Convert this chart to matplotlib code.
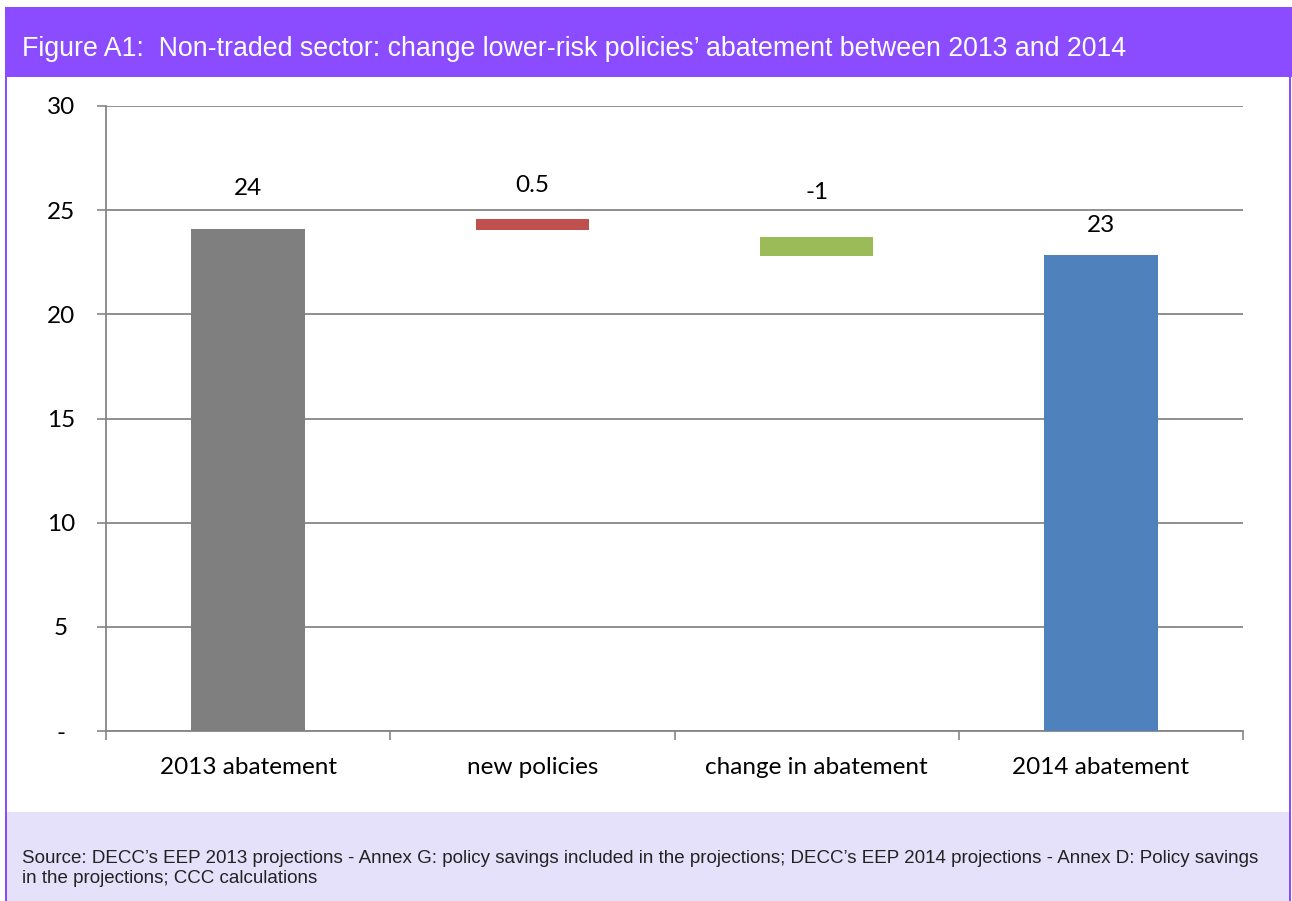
import matplotlib
matplotlib.use("Agg")
import matplotlib.pyplot as plt
from matplotlib.patches import Rectangle

# data
categories = ["2013 abatement", "new policies", "change in abatement", "2014 abatement"]
bar_bottoms = [0, 24.05, 22.8, 0]
bar_heights = [24.1, 0.55, 0.9, 22.85]
bar_labels = ["24", "0.5", "-1", "23"]
label_offsets = [29, 24, 32, 21]  # points above bar top
bar_colors = ["#7F7F7F", "#C0504D", "#9BBB59", "#4F81BD"]
yticks = [0, 5, 10, 15, 20, 25, 30]
ytick_labels = ["-", "5", "10", "15", "20", "25", "30"]

title = "Figure A1:  Non-traded sector: change lower-risk policies\u2019 abatement between 2013 and 2014"
source = ("Source: DECC\u2019s EEP 2013 projections - Annex G: policy savings included in the projections; "
          "DECC\u2019s EEP 2014 projections - Annex D: Policy savings\nin the projections; CCC calculations")

W, H = 1292, 901
fig = plt.figure(figsize=(W / 100, H / 100), dpi=100)
fig.patch.set_facecolor("white")

purple = "#8B4BFE"
lavender = "#E6E1FA"

def px_rect(x0, y0, x1, y1, color):
    # rectangle in pixel coordinates, y measured from the top
    fig.patches.append(Rectangle((x0 / W, 1 - y1 / H), (x1 - x0) / W, (y1 - y0) / H,
                                 transform=fig.transFigure, facecolor=color,
                                 edgecolor="none", zorder=0))

px_rect(5, 7, 1292, 77, purple)         # header band
px_rect(6, 812, 1290, 901, lavender)    # source band
px_rect(5, 77, 7, 901, purple)          # left border
px_rect(1289, 77, 1291, 901, purple)    # right border

fig.text(22 / W, 1 - 49 / H, title, color="white", fontsize=19.3,
         family="Liberation Sans", va="center", ha="left")
fig.text(22 / W, 1 - 850 / H, source, color="#222222", fontsize=13.5,
         family="Liberation Sans", va="top", ha="left", linespacing=1.22)

ax = fig.add_axes([106 / W, 1 - 731 / H, (1243 - 106) / W, (731 - 106) / H])
ax.set_facecolor("white")

xs = range(len(categories))
ax.bar(xs, bar_heights, bottom=bar_bottoms, width=0.4, color=bar_colors, zorder=3)

for x, b, h, lab, off in zip(xs, bar_bottoms, bar_heights, bar_labels, label_offsets):
    ax.annotate(lab, (x, b + h), xytext=(0, off), textcoords="offset points",
                ha="center", va="center", fontsize=17.5, family="Lato", color="black")

ax.set_ylim(0, 30)
ax.set_xlim(-0.5, len(categories) - 0.5)
ax.set_yticks(yticks)
ax.set_yticklabels(ytick_labels, family="Lato", fontsize=17.5, ha="center")
ax.tick_params(axis="y", length=6.5, width=1.2, color="#868686", pad=26)
ax.yaxis.grid(True, color="#868686", linewidth=1.3, zorder=0)
ax.set_axisbelow(True)

# category labels centered, tick marks at category boundaries
ax.set_xticks(list(xs))
ax.set_xticklabels(categories, family="Lato", fontsize=17.5)
ax.tick_params(axis="x", length=0, pad=19)
ax.set_xticks([i - 0.5 for i in range(len(categories) + 1)], minor=True)
ax.tick_params(axis="x", which="minor", length=6.5, width=1.2, color="#868686")

for s in ["top", "right"]:
    ax.spines[s].set_visible(False)
for s in ["left", "bottom"]:
    ax.spines[s].set_color("#868686")
    ax.spines[s].set_linewidth(1.3)

fig.savefig("out.png", dpi=100)
